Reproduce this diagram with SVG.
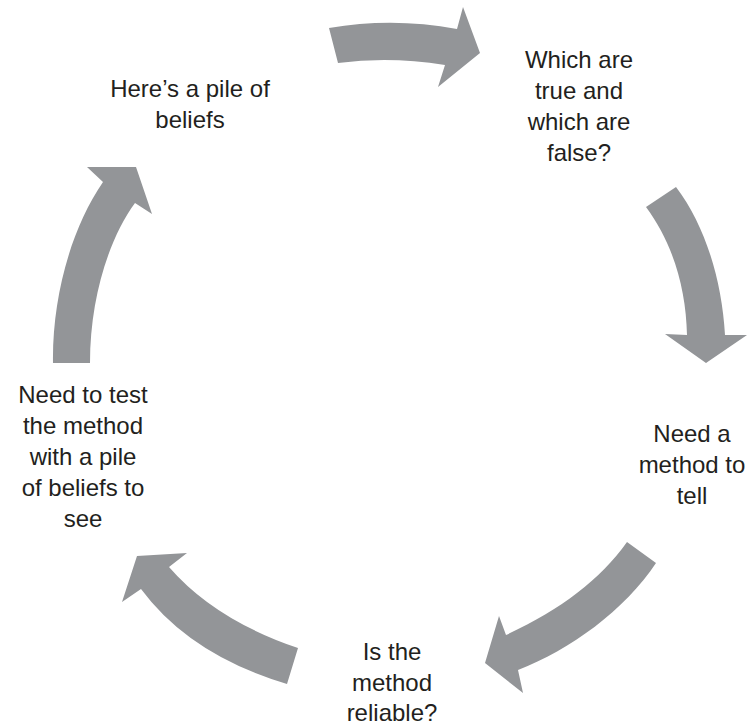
<svg xmlns="http://www.w3.org/2000/svg" width="754" height="726" viewBox="0 0 754 726">
<style>
.arrow{fill:#939598;stroke:none}
.lbl{font-family:"Liberation Sans",Arial,Helvetica,sans-serif;font-size:24px;fill:#231f20;text-anchor:middle}
</style>
<rect width="754" height="726" fill="#ffffff"/>
<g id="connectors">
<path class="arrow" d="M329,28 Q393,17 457,29 L463,7 L480,53 L438,87 L445,65 Q390,56 338,63 Z"/>
<path class="arrow" d="M676,187 C705,225 722,280 725,335 L747,335 L706,363 L665,334 L687,335 C686,290 674,245 646,207 Z"/>
<path class="arrow" d="M627,542 C600,580 560,610 506,635 L499,616 L485,663 L523,693 L518,670 C570,650 625,610 656,563 Z"/>
<path class="arrow" d="M169,567 Q215,620 298,648 L287,684 Q190,655 141,589 L122,602 L137,556 L187,553 Z"/>
<path class="arrow" d="M53,363 C52,300 70,230 103,182 L87,167 L136,167 L152,214 L135,203 C108,240 90,300 90,363 Z"/>
</g>
<g id="node-beliefs">
<text class="lbl" x="190" y="97">Here’s a pile of</text>
<text class="lbl" x="190" y="128">beliefs</text>
</g>
<g id="node-which">
<text class="lbl" x="579" y="68">Which are</text>
<text class="lbl" x="579" y="99">true and</text>
<text class="lbl" x="579" y="130">which are</text>
<text class="lbl" x="579" y="161">false?</text>
</g>
<g id="node-method">
<text class="lbl" x="692" y="442">Need a</text>
<text class="lbl" x="692" y="473">method to</text>
<text class="lbl" x="692" y="504">tell</text>
</g>
<g id="node-reliable">
<text class="lbl" x="392" y="660">Is the</text>
<text class="lbl" x="392" y="691">method</text>
<text class="lbl" x="392" y="721">reliable?</text>
</g>
<g id="node-test">
<text class="lbl" x="83" y="403">Need to test</text>
<text class="lbl" x="83" y="434">the method</text>
<text class="lbl" x="83" y="465">with a pile</text>
<text class="lbl" x="83" y="496">of beliefs to</text>
<text class="lbl" x="83" y="527">see</text>
</g>
</svg>
